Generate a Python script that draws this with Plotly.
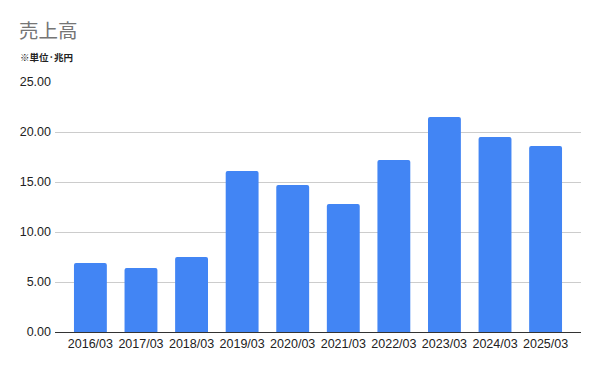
import plotly.graph_objects as go

categories = ["2016/03", "2017/03", "2018/03", "2019/03", "2020/03",
              "2021/03", "2022/03", "2023/03", "2024/03", "2025/03"]
sales = [6.9, 6.4, 7.5, 16.1, 14.7, 12.8, 17.2, 21.5, 19.5, 18.6]
y_ticks = [0, 5, 10, 15, 20, 25]
y_tick_labels = ["0.00", "5.00", "10.00", "15.00", "20.00", "25.00"]

W, H = 600, 371
ml, mr, mt, mb = 55, 19, 82, 39
pw, ph = W - ml - mr, H - mt - mb

fig = go.Figure()
fig.add_trace(go.Bar(
    x=categories, y=sales,
    marker=dict(color="#4285F4", cornerradius=2, line=dict(width=0)),
    hoverinfo="x+y",
))

fig.update_layout(
    width=W, height=H,
    margin=dict(l=ml, r=mr, t=mt, b=mb),
    paper_bgcolor="white", plot_bgcolor="white",
    bargap=0.35,
    showlegend=False,
    font=dict(family="Liberation Sans, Arial, sans-serif", size=12, color="#222222"),
    title=dict(
        text="売上高",
        font=dict(family="Noto Sans CJK JP", size=19.5, color="#757575"),
        x=19 / W, xanchor="left", xref="container",
        y=1 - 31 / H, yanchor="middle", yref="container",
    ),
    annotations=[dict(
        text="<b>※単位·兆円</b>",
        font=dict(family="Noto Sans CJK JP", size=9.5, color="#222222"),
        showarrow=False,
        xref="paper", yref="paper",
        x=(18 - ml) / pw, xanchor="left",
        y=(H - mb - 57) / ph, yanchor="middle",
    )],
    xaxis=dict(
        type="category",
        range=[-0.7, 9.7],
        showgrid=False,
        showline=True, linecolor="#333333", linewidth=1,
        ticks="", tickfont=dict(size=12.5, color="#222222"),
    ),
    yaxis=dict(
        range=[0, 25],
        tickvals=y_ticks, ticktext=y_tick_labels,
        showgrid=True, gridcolor="#cccccc", gridwidth=1,
        zeroline=False, showline=False,
        ticks="", ticklen=0, ticklabelstandoff=3,
        tickfont=dict(size=12.5, color="#222222"),
    ),
)

fig.write_html("out.html")
